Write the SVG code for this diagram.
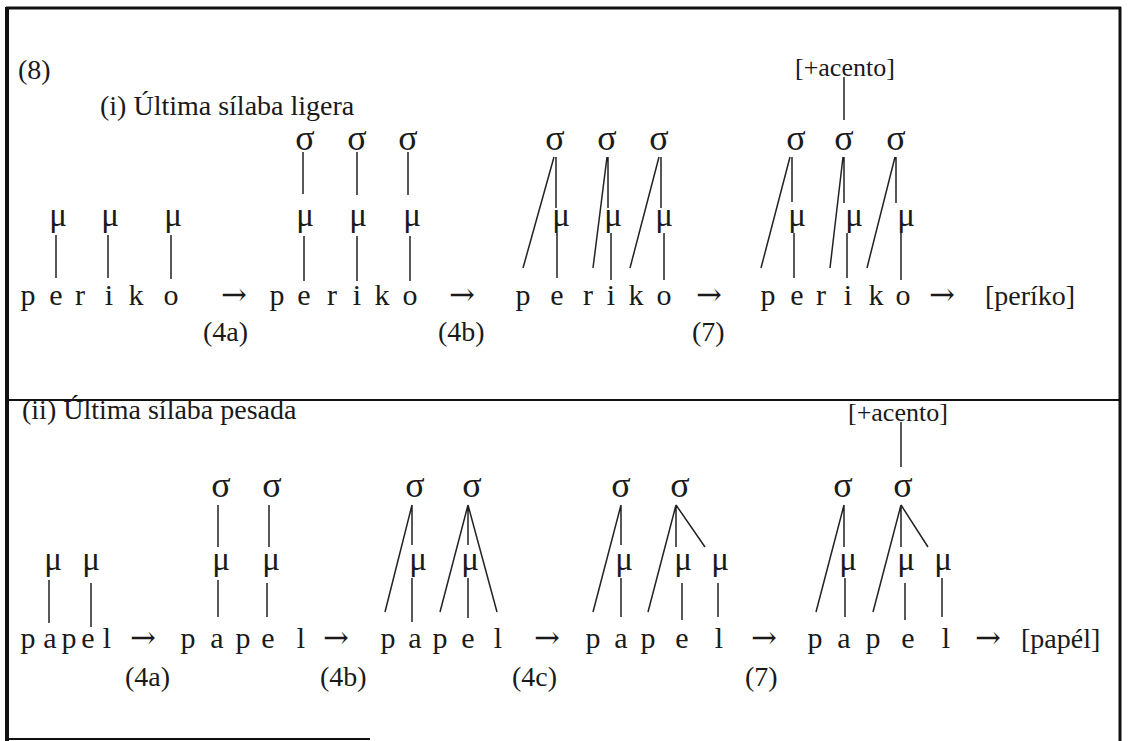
<svg xmlns="http://www.w3.org/2000/svg" width="1128" height="741" viewBox="0 0 1128 741">
<style>
.t{font-family:"Liberation Serif","Times New Roman",serif;fill:#1a1a1a}
.seg{font-size:30px;text-anchor:middle}
.arr{font-family:"DejaVu Serif","Liberation Serif",serif;font-size:31px;text-anchor:middle;fill:#1a1a1a}
.mu{font-size:33px;text-anchor:middle}
.sg{font-size:36px;text-anchor:middle}
.lab{font-size:28px}
.acc{font-size:26px}
.ln{stroke:#222;stroke-width:1.5;fill:none}
.frame{stroke:#111;fill:none}
</style>
<rect width="1128" height="741" fill="#fff"/>
<g id="frame">
<path class="frame" stroke-width="3" d="M6 8H1121"/>
<path class="frame" stroke-width="4" d="M7 7V741"/>
<path class="frame" stroke-width="3" d="M1120 7V741"/>
<path class="frame" stroke-width="2" stroke="#444" d="M8 400H1120"/>
<path class="frame" stroke-width="2" stroke="#666" d="M7 739H370"/>
</g>
<g id="headings">
<text class="t lab" x="18" y="79">(8)</text>
<text class="t lab" x="100" y="115">(i) Última sílaba ligera</text>
<text class="t lab" x="22" y="419">(ii) Última sílaba pesada</text>
</g>
<g id="row1-A">
<text class="t mu" x="58 110 173" y="226">μμμ</text>
<text class="t seg" x="28 56 80 109 136 171" y="305">periko</text>
</g>
<text class="arr" x="234" y="305">→</text>
<text class="t lab" x="203" y="341">(4a)</text>
<g id="row1-B">
<text class="t sg" x="305 357 408" y="150">σσσ</text>
<text class="t mu" x="305 358 412" y="226">μμμ</text>
<text class="t seg" x="277 304 332 357 382 410" y="305">periko</text>
</g>
<text class="arr" x="462" y="305">→</text>
<text class="t lab" x="438" y="341">(4b)</text>
<g id="row1-C">
<text class="t sg" x="555 607 659" y="150">σσσ</text>
<text class="t mu" x="561 613 664" y="226">μμμ</text>
<text class="t seg" x="523 557 588 611 636 664" y="305">periko</text>
</g>
<text class="arr" x="709" y="305">→</text>
<text class="t lab" x="692" y="341">(7)</text>
<g id="row1-D">
<text class="t acc" x="795" y="76">[+acento]</text>
<text class="t sg" x="796 844 896" y="150">σσσ</text>
<text class="t mu" x="797 854 906" y="226">μμμ</text>
<text class="t seg" x="768 797 821 848 876 903" y="305">periko</text>
</g>
<text class="arr" x="942" y="305">→</text>
<text class="t lab" x="985" y="305">[períko]</text>

<g id="row2-A">
<text class="t mu" x="53 91" y="570">μμ</text>
<text class="t seg" x="28 50 69 88 107" y="648">papel</text>
</g>
<text class="arr" x="143" y="648">→</text>
<text class="t lab" x="125" y="686">(4a)</text>
<g id="row2-B">
<text class="t sg" x="221 272" y="497">σσ</text>
<text class="t mu" x="221 271" y="570">μμ</text>
<text class="t seg" x="188 217 243 268 301" y="648">papel</text>
</g>
<text class="arr" x="336" y="648">→</text>
<text class="t lab" x="320" y="686">(4b)</text>
<g id="row2-C">
<text class="t sg" x="415 472" y="497">σσ</text>
<text class="t mu" x="418 470" y="570">μμ</text>
<text class="t seg" x="388 415 440 468 498" y="648">papel</text>
</g>
<text class="arr" x="547" y="648">→</text>
<text class="t lab" x="512" y="686">(4c)</text>
<g id="row2-D">
<text class="t sg" x="621 680" y="497">σσ</text>
<text class="t mu" x="624 683 720" y="570">μμμ</text>
<text class="t seg" x="593 621 648 682 719" y="648">papel</text>
</g>
<text class="arr" x="764" y="648">→</text>
<text class="t lab" x="745" y="686">(7)</text>
<g id="row2-E">
<text class="t acc" x="848" y="421">[+acento]</text>
<text class="t sg" x="843 903" y="497">σσ</text>
<text class="t mu" x="848 906 943" y="570">μμμ</text>
<text class="t seg" x="815 844 873 908 946" y="648">papel</text>
</g>
<text class="arr" x="988" y="648">→</text>
<text class="t lab" x="1021" y="648">[papél]</text>

<g id="connectors" class="ln">
<path d="M56 235V278M108 235V278M171 235V279"/>
<path d="M303 152V194M357 152V195M408 152V195M304 236V281M357 236V281M410 236V281"/>
<path d="M554 157L523 268M556 157V208M557 233V278M607 157L593 268M608 157V208M611 233V280M659 157L630 268M661 157V208M664 233V280"/>
<path d="M844 77V120M790 157L761 268M792 157V202M794 233V278M843 157L830 268M844 157V203M847 233V278M895 157L867 268M896 157V203M901 233V280"/>
<path d="M49 580V623M91 583V627"/>
<path d="M218 505V547M269 505V547M218 580V617M267 583V617"/>
<path d="M412 505V545M412 505L385 612M412 578V622M468 505L440 612M468 505V545M468 505L497 612M468 578V618"/>
<path d="M621 505V545M621 505L593 612M621 578V617M676 505L648 612M676 505V547M676 505L705 547M682 583V620M718 583V617"/>
<path d="M901 422V467M844 505V547M844 505L816 612M845 578V617M901 505L873 612M901 505V547M901 505L928 547M905 583V620M942 578V617"/>
</g>
</svg>
